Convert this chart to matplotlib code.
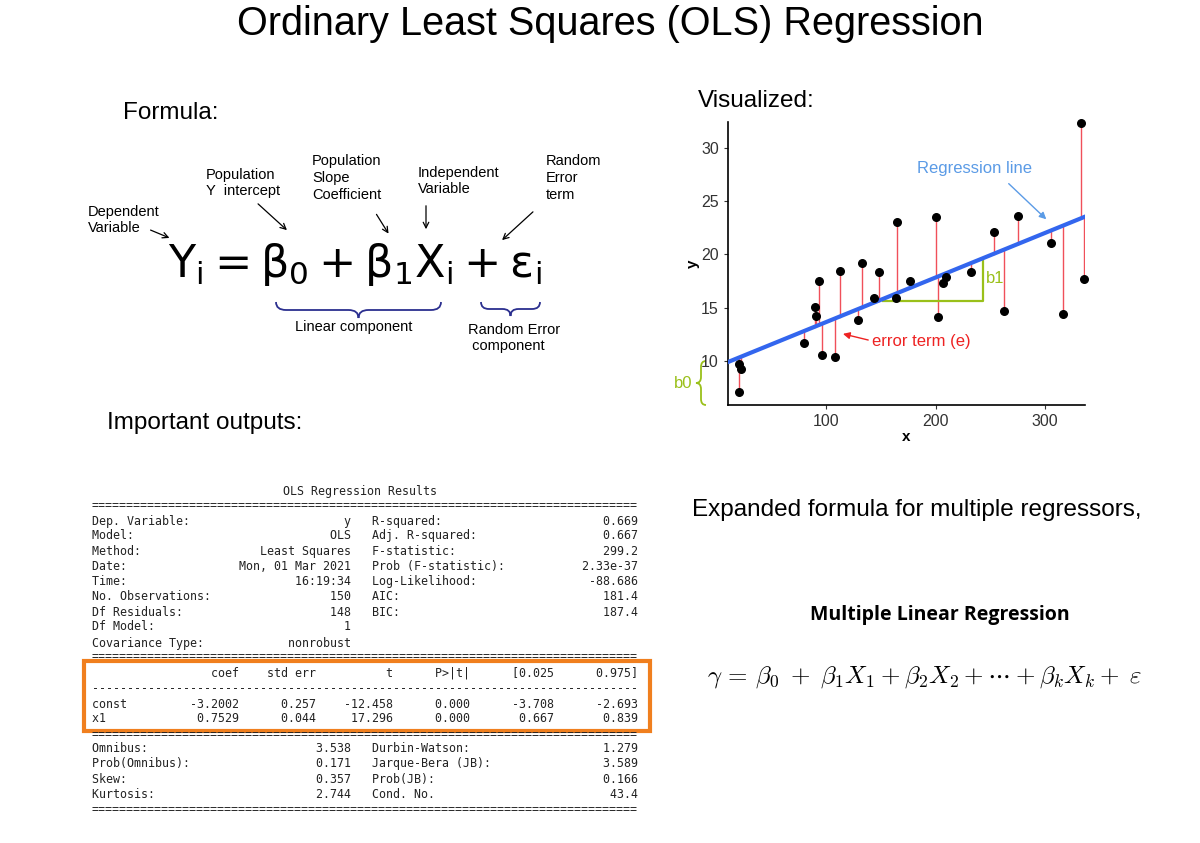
import matplotlib
matplotlib.use("Agg")
import matplotlib.pyplot as plt
import numpy as np
from matplotlib.path import Path
from matplotlib.patches import PathPatch, Rectangle

plt.rcParams["font.family"] = ["Liberation Sans", "DejaVu Sans"]
plt.rcParams["mathtext.fontset"] = "dejavusans"

# scatter data
xs = [20.4, 20.4, 22.8, 80, 89.7, 91, 93.6, 96, 108, 112.5, 129, 132.5, 144, 148,
      163.5, 165, 177, 200, 202, 207, 210, 232, 253, 262.6, 275.7, 305, 316, 333, 336]
ys = [7.1, 9.7, 9.2, 11.7, 15.1, 14.2, 17.5, 10.6, 10.4, 18.4, 13.8, 19.2, 15.9, 18.3,
      15.9, 23.0, 17.5, 23.5, 14.1, 17.3, 17.9, 18.3, 22.1, 14.7, 23.6, 21.1, 14.4, 32.3, 17.7]
intercept = 9.46
slope = 0.0418

ols_lines = [
    "=" * 78,
    "Dep. Variable:                      y   R-squared:                       0.669",
    "Model:                            OLS   Adj. R-squared:                  0.667",
    "Method:                 Least Squares   F-statistic:                     299.2",
    "Date:                Mon, 01 Mar 2021   Prob (F-statistic):           2.33e-37",
    "Time:                        16:19:34   Log-Likelihood:                -88.686",
    "No. Observations:                 150   AIC:                             181.4",
    "Df Residuals:                     148   BIC:                             187.4",
    "Df Model:                           1                                         ",
    "Covariance Type:            nonrobust                                         ",
    "=" * 78,
    "                 coef    std err          t      P>|t|      [0.025      0.975]",
    "-" * 78,
    "const         -3.2002      0.257    -12.458      0.000      -3.708      -2.693",
    "x1             0.7529      0.044     17.296      0.000       0.667       0.839",
    "=" * 78,
    "Omnibus:                        3.538   Durbin-Watson:                   1.279",
    "Prob(Omnibus):                  0.171   Jarque-Bera (JB):                3.589",
    "Skew:                           0.357   Prob(JB):                        0.166",
    "Kurtosis:                       2.744   Cond. No.                         43.4",
    "=" * 78,
]
ols_y = [506, 521, 536, 551, 566, 582, 597, 612, 627, 643, 657, 673, 689, 704, 719,
         735, 749, 764, 779, 795, 810]


def hbrace(ax, x0, x1, y, h, r, color):
    xm = (x0 + x1) / 2
    v = [(x0, y), (x0, y + h / 2), (x0 + r, y + h / 2), (xm - r, y + h / 2),
         (xm, y + h / 2), (xm, y + h), (xm, y + h / 2), (xm + r, y + h / 2),
         (x1 - r, y + h / 2), (x1, y + h / 2), (x1, y)]
    c = [Path.MOVETO, Path.CURVE3, Path.CURVE3, Path.LINETO, Path.CURVE3, Path.CURVE3,
         Path.CURVE3, Path.CURVE3, Path.LINETO, Path.CURVE3, Path.CURVE3]
    ax.add_patch(PathPatch(Path(v, c), fc="none", ec=color, lw=1.3))


def vbrace(ax, x, y0, y1, w, r, color):
    ym = (y0 + y1) / 2
    v = [(x, y0), (x - w / 2, y0), (x - w / 2, y0 + r), (x - w / 2, ym - r),
         (x - w / 2, ym), (x - w, ym), (x - w / 2, ym), (x - w / 2, ym + r),
         (x - w / 2, y1 - r), (x - w / 2, y1), (x, y1)]
    c = [Path.MOVETO, Path.CURVE3, Path.CURVE3, Path.LINETO, Path.CURVE3, Path.CURVE3,
         Path.CURVE3, Path.CURVE3, Path.LINETO, Path.CURVE3, Path.CURVE3]
    ax.add_patch(PathPatch(Path(v, c), fc="none", ec=color, lw=1.3))


fig = plt.figure(figsize=(12, 8.43), dpi=100)
bg = fig.add_axes([0, 0, 1, 1])
bg.set_xlim(0, 1200)
bg.set_ylim(843, 0)
bg.axis("off")

bg.text(610, 24, "Ordinary Least Squares (OLS) Regression", fontsize=28.5, ha="center", va="center")
bg.text(123, 113, "Formula:", fontsize=17.5, va="center")
bg.text(698, 101, "Visualized:", fontsize=17.5, va="center")
bg.text(107, 423, "Important outputs:", fontsize=17.5, va="center")
bg.text(692, 510, "Expanded formula for multiple regressors,", fontsize=17.5, va="center")
bg.text(940, 615, "Multiple Linear Regression", fontsize=14, fontweight="bold",
        ha="center", va="center", family=["Open Sans", "DejaVu Sans"])
bg.text(925, 677, r"$\gamma\,=\,\beta_0\;+\;\beta_1X_1 + \beta_2X_2 + \cdots + \beta_kX_k +\; \varepsilon$",
        fontsize=18, ha="center", va="center", math_fontfamily="cm")

# main formula
bg.text(355, 264, r"$\mathsf{Y_i = \beta_0 + \beta_1X_i + \varepsilon_i}$", fontsize=32,
        ha="center", va="center")

small = dict(fontsize=10.5, va="center", linespacing=1.25)
bg.text(88, 220, "Dependent\nVariable", **small)
bg.text(206, 183, "Population\nY  intercept", **small)
bg.text(312, 178, "Population\nSlope\nCoefficient", **small)
bg.text(418, 181, "Independent\nVariable", **small)
bg.text(546, 178, "Random\nError\nterm", **small)
arr = dict(arrowstyle="->", color="black", lw=0.9)
bg.annotate("", xy=(172, 239), xytext=(148, 229), arrowprops=arr)
bg.annotate("", xy=(289, 232), xytext=(256, 202), arrowprops=arr)
bg.annotate("", xy=(390, 236), xytext=(375, 212), arrowprops=arr)
bg.annotate("", xy=(426, 232), xytext=(426, 203), arrowprops=arr)
bg.annotate("", xy=(500, 242), xytext=(535, 210), arrowprops=arr)

navy = "#2b2f8f"
hbrace(bg, 276, 441, 302, 16, 10, navy)
hbrace(bg, 481, 540, 302, 14, 8, navy)
bg.text(354, 327, "Linear component", ha="center", **small)
bg.text(468, 338, "Random Error\n component", **small)

# OLS summary
bg.text(360, 491, "OLS Regression Results", family="DejaVu Sans Mono", fontsize=8.37,
        ha="center", va="center", color="#222222")
for line, yy in zip(ols_lines, ols_y):
    bg.text(92, yy, line, family="DejaVu Sans Mono", fontsize=8.37, va="center", color="#222222")
bg.add_patch(Rectangle((84, 661), 566, 70, fc="none", ec="#f07f1e", lw=3))

# b0 brace
green = "#9ac01a"
vbrace(bg, 706, 361, 405, 10, 6, green)
bg.text(683, 383, "b0", color=green, fontsize=12, ha="center", va="center")

# scatter plot
ax = fig.add_axes([728 / 1200, 1 - 405 / 843, (1085 - 728) / 1200, (405 - 122) / 843])
ax.set_facecolor("none")
ax.set_xlim(10.5, 336.5)
ax.set_ylim(5.87, 32.4)
line_x = np.array([10.5, 336.5])
for x, y in zip(xs, ys):
    ax.plot([x, x], [y, intercept + slope * x], color="#f0505a", lw=1, zorder=2)
ax.plot(line_x, intercept + slope * line_x, color="#3366ee", lw=3, zorder=3)
ax.scatter(xs, ys, s=30, color="black", zorder=4, clip_on=False)
ax.plot([152, 243, 243], [15.6, 15.6, 19.4], color=green, lw=1.6, zorder=2)
ax.text(246, 17.7, "b1", color=green, fontsize=12, va="center")
ax.text(236, 28.0, "Regression line", color="#5b9be6", fontsize=12, ha="center", va="center")
ax.annotate("", xy=(303, 23.1), xytext=(265, 26.8),
            arrowprops=dict(arrowstyle="-|>", color="#5b9be6", lw=1))
ax.text(187, 11.85, "error term (e)", color="#ee2222", fontsize=12, ha="center", va="center")
ax.annotate("", xy=(113, 12.6), xytext=(141, 11.9),
            arrowprops=dict(arrowstyle="-|>", color="#ee2222", lw=1))
for s in ["top", "right"]:
    ax.spines[s].set_visible(False)
ax.spines["left"].set_linewidth(1.2)
ax.spines["bottom"].set_linewidth(1.2)
ax.set_xticks([100, 200, 300])
ax.set_yticks([10, 15, 20, 25, 30])
ax.tick_params(labelsize=11.5, length=3, colors="#333333")
ax.set_xlabel("x", fontsize=11, fontweight="bold", labelpad=1)
ax.set_ylabel("y", fontsize=11, fontweight="bold", labelpad=1)

fig.savefig("out.png", dpi=100)
